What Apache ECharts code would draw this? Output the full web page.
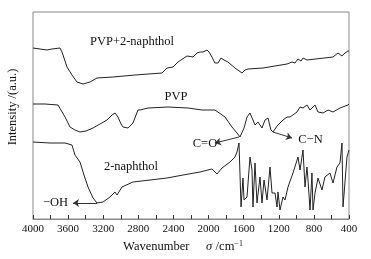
<!DOCTYPE html>
<html><head><meta charset="utf-8">
<script src="https://cdn.jsdelivr.net/npm/echarts@6/dist/echarts.min.js"></script>
<style>html,body{margin:0;padding:0;background:#fff}#c{width:371px;height:259px}</style>
</head><body><div id="c"></div>
<script>
// PVP+2-naphthol
const wnMix = [4000,3920,3841,3784,3692,3670,3658,3613,3556,3499,3430,3351,3271,3089,2838,2530,2473,2405,2348,2246,2177,2132,2098,2063,2018,1995,1961,1927,1892,1858,1824,1779,1699,1619,1585,1551,1380,1106,1049,1015,981,947,924,879,582,525,480,446,412,400];
const intMix = [171,170,169,170,171,167,164,152,144,137,135,137,141,142,144,146,151,152,157,163,162,166,167,167,169,167,162,156,156,161,159,157,151,146,149,150,151,155,157,156,160,158,161,159,162,166,163,166,168,168];
// PVP
const wnPVP = [4000,3863,3715,3635,3578,3522,3465,3396,3316,3157,3100,3066,3032,2997,2975,2918,2861,2804,2781,2690,2462,2234,2075,1927,1813,1733,1676,1642,1596,1562,1528,1494,1471,1437,1391,1357,1323,1289,1266,1220,1152,1106,1072,992,958,924,879,844,787,753,696,639,582,503,412,400];
const intPVP = [115,115,114,102,92,89,87,88,91,99,104,106,102,95,92,91,96,109,109,111,112,111,109,109,102,92,86,82,91,102,106,99,94,97,91,99,101,89,87,93,99,102,102,107,112,111,114,109,114,107,106,109,107,111,114,115];
// 2-naphthol
const wnNap = [4000,3806,3635,3556,3522,3465,3408,3373,3316,3271,3203,3123,3066,3043,2986,2861,2667,2473,2291,2098,1961,1904,1847,1756,1699,1676,1653,1630,1608,1596,1562,1528,1505,1494,1471,1448,1414,1391,1368,1334,1300,1277,1243,1220,1209,1186,1152,1129,1095,1038,981,958,924,901,879,867,844,822,810,787,753,708,674,617,582,537,503,480,468,423,400];
const intNap = [77,76,76,74,64,57,41,32,21,16,17,22,27,24,32,37,39,41,44,47,50,45,51,57,62,67,76,12,41,19,22,62,49,12,56,16,42,16,39,19,52,26,26,12,27,9,22,19,32,46,62,49,69,32,52,39,9,46,9,26,41,29,42,46,36,52,56,76,12,62,69];
// tick labels
const xTickLabels = [4000,3600,3200,2800,2400,2000,1600,1200,800,400];
// annotations [text, wavenumber, intensity]
const notes = [["PVP+2-naphthol",2872,177],["PVP",2371,122],["2-naphthol",2884,52],["\u2212OH",3744,16],["C=O",2041,75],["C\u2212N",839,79]];
// arrows [fromW, fromI, toW, toI]
const arrows = [[3271,16,3544,16],[1653,82,1927,76],[1266,87,1049,81]];

const pair = (w, v) => w.map((x, i) => [x, v[i]]);
const font = 'Liberation Serif';
const chart = echarts.init(document.getElementById('c'), null, {renderer: 'canvas'});
const lineStyle = {color: '#222', width: 1};
const opt = {
  animation: false,
  grid: {left: 33, right: 22, top: 12, bottom: 40, show: true, borderColor: '#8a8a8a', borderWidth: 1},
  xAxis: {
    type: 'value', min: 400, max: 4000, interval: 200, inverse: true,
    axisLine: {show: true, lineStyle: {color: '#8a8a8a'}},
    axisTick: {show: true, inside: true, length: 4, lineStyle: {color: '#333'}},
    splitLine: {show: false},
    axisLabel: {color: '#111', fontFamily: font, fontSize: 11, margin: 5,
      formatter: v => xTickLabels.includes(v) ? String(v) : ''},
    name: '{n|Wavenumber}     {s|\u03c3} {n|/cm}{p|\u22121}',
    nameLocation: 'middle', nameGap: 19,
    nameTextStyle: {padding: [0, 16, 0, 0], rich: {
      n: {fontFamily: font, fontSize: 12.5, color: '#111'},
      s: {fontFamily: font, fontSize: 12.5, fontStyle: 'italic', color: '#111'},
      p: {fontFamily: font, fontSize: 8, color: '#111', padding: [0, 0, 6, 0]}
    }}
  },
  yAxis: {type: 'value', min: 0, max: 207, show: false},
  graphic: [{type: 'text', x: 13, y: 107, rotation: Math.PI / 2,
    style: {text: 'Intensity /(a.u.)', font: '12.5px "Liberation Serif"', fill: '#111', textAlign: 'center', textVerticalAlign: 'middle'}}],
  series: [
    {type: 'line', data: pair(wnMix, intMix), symbol: 'none', lineStyle,
      markPoint: {symbol: 'rect', symbolSize: 1, itemStyle: {color: 'transparent'},
        label: {show: true, position: 'inside', fontFamily: font, fontSize: 12.5, color: '#111', formatter: p => p.name},
        data: notes.map(n => ({name: n[0], coord: [n[1], n[2]]}))},
      markLine: {silent: true, symbol: ['none', 'arrow'], symbolSize: 6, label: {show: false},
        lineStyle: {color: '#333', width: 1, type: 'solid'},
        data: arrows.map(a => [{coord: [a[0], a[1]]}, {coord: [a[2], a[3]]}])}
    },
    {type: 'line', data: pair(wnPVP, intPVP), symbol: 'none', lineStyle},
    {type: 'line', data: pair(wnNap, intNap), symbol: 'none', lineStyle}
  ]
};
chart.setOption(opt);
</script></body></html>
